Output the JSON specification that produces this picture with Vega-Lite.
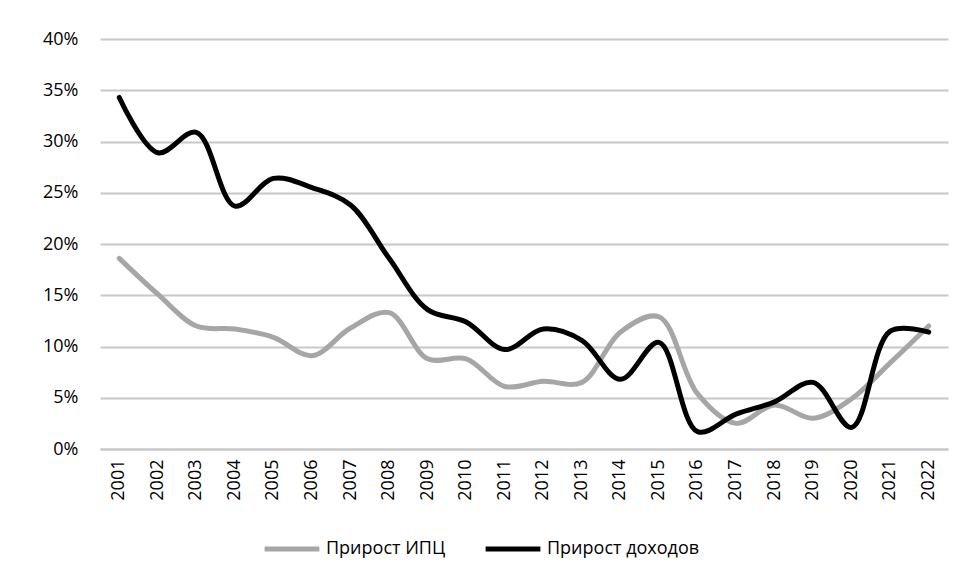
{
  "$schema": "https://vega.github.io/schema/vega-lite/v6.json",
  "width": 848,
  "height": 410,
  "autosize": "none",
  "padding": {"left": 100, "top": 39, "right": 9, "bottom": 134},
  "background": "white",
  "config": {
    "view": {"stroke": null},
    "font": "Open Sans"
  },
  "data": {
    "values": [
      {"year": "2001", "series": "Прирост ИПЦ", "value": 0.186},
      {"year": "2002", "series": "Прирост ИПЦ", "value": 0.151},
      {"year": "2003", "series": "Прирост ИПЦ", "value": 0.120},
      {"year": "2004", "series": "Прирост ИПЦ", "value": 0.117},
      {"year": "2005", "series": "Прирост ИПЦ", "value": 0.109},
      {"year": "2006", "series": "Прирост ИПЦ", "value": 0.091},
      {"year": "2007", "series": "Прирост ИПЦ", "value": 0.118},
      {"year": "2008", "series": "Прирост ИПЦ", "value": 0.133},
      {"year": "2009", "series": "Прирост ИПЦ", "value": 0.088},
      {"year": "2010", "series": "Прирост ИПЦ", "value": 0.088},
      {"year": "2011", "series": "Прирост ИПЦ", "value": 0.061},
      {"year": "2012", "series": "Прирост ИПЦ", "value": 0.066},
      {"year": "2013", "series": "Прирост ИПЦ", "value": 0.065},
      {"year": "2014", "series": "Прирост ИПЦ", "value": 0.114},
      {"year": "2015", "series": "Прирост ИПЦ", "value": 0.129},
      {"year": "2016", "series": "Прирост ИПЦ", "value": 0.054},
      {"year": "2017", "series": "Прирост ИПЦ", "value": 0.025},
      {"year": "2018", "series": "Прирост ИПЦ", "value": 0.043},
      {"year": "2019", "series": "Прирост ИПЦ", "value": 0.030},
      {"year": "2020", "series": "Прирост ИПЦ", "value": 0.049},
      {"year": "2021", "series": "Прирост ИПЦ", "value": 0.084},
      {"year": "2022", "series": "Прирост ИПЦ", "value": 0.120},
      {"year": "2001", "series": "Прирост доходов", "value": 0.343},
      {"year": "2002", "series": "Прирост доходов", "value": 0.289},
      {"year": "2003", "series": "Прирост доходов", "value": 0.309},
      {"year": "2004", "series": "Прирост доходов", "value": 0.237},
      {"year": "2005", "series": "Прирост доходов", "value": 0.264},
      {"year": "2006", "series": "Прирост доходов", "value": 0.255},
      {"year": "2007", "series": "Прирост доходов", "value": 0.238},
      {"year": "2008", "series": "Прирост доходов", "value": 0.186},
      {"year": "2009", "series": "Прирост доходов", "value": 0.136},
      {"year": "2010", "series": "Прирост доходов", "value": 0.124},
      {"year": "2011", "series": "Прирост доходов", "value": 0.097},
      {"year": "2012", "series": "Прирост доходов", "value": 0.117},
      {"year": "2013", "series": "Прирост доходов", "value": 0.106},
      {"year": "2014", "series": "Прирост доходов", "value": 0.068},
      {"year": "2015", "series": "Прирост доходов", "value": 0.104},
      {"year": "2016", "series": "Прирост доходов", "value": 0.017},
      {"year": "2017", "series": "Прирост доходов", "value": 0.034},
      {"year": "2018", "series": "Прирост доходов", "value": 0.046},
      {"year": "2019", "series": "Прирост доходов", "value": 0.065},
      {"year": "2020", "series": "Прирост доходов", "value": 0.021},
      {"year": "2021", "series": "Прирост доходов", "value": 0.115},
      {"year": "2022", "series": "Прирост доходов", "value": 0.114}
    ]
  },
  "mark": {"type": "line", "interpolate": "catmull-rom", "strokeWidth": 5, "strokeCap": "round", "strokeJoin": "round"},
  "encoding": {
    "x": {
      "field": "year",
      "type": "ordinal",
      "scale": {"type": "band", "paddingInner": 0, "paddingOuter": 0},
      "axis": {
        "title": null,
        "labelAngle": -90,
        "labelFontSize": 18,
        "labelColor": "#000000",
        "labelPadding": 10,
        "ticks": false,
        "domainColor": "#c8c8c8",
        "domainWidth": 2,
        "grid": false
      }
    },
    "y": {
      "field": "value",
      "type": "quantitative",
      "scale": {"domain": [0, 0.4], "nice": false},
      "axis": {
        "title": null,
        "values": [0, 0.05, 0.1, 0.15, 0.2, 0.25, 0.3, 0.35, 0.4],
        "format": ".0%",
        "labelFontSize": 18,
        "labelColor": "#000000",
        "labelPadding": 22,
        "ticks": false,
        "domain": false,
        "grid": true,
        "gridColor": "#c8c8c8",
        "gridWidth": 2
      }
    },
    "color": {
      "field": "series",
      "type": "nominal",
      "scale": {"domain": ["Прирост ИПЦ", "Прирост доходов"], "range": ["#a6a6a6", "#000000"]},
      "legend": {
        "title": null,
        "orient": "none",
        "direction": "horizontal",
        "legendX": 162,
        "legendY": 480,
        "symbolType": "stroke",
        "symbolSize": 3000,
        "symbolStrokeWidth": 5,
        "labelFont": "Open Sans",
        "labelFontSize": 18,
        "labelColor": "#000000",
        "labelOffset": 4,
        "columnPadding": 29
      }
    }
  }
}
